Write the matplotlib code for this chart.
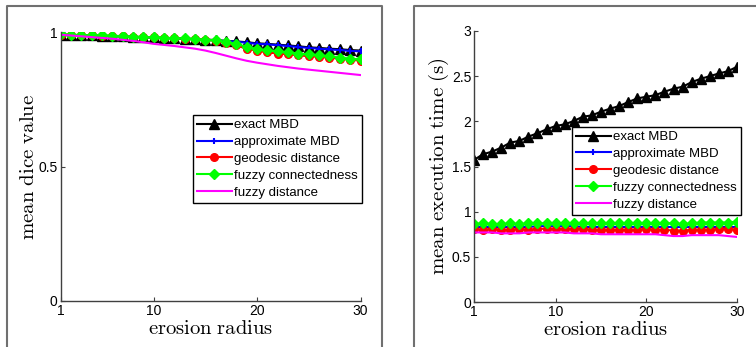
import matplotlib
matplotlib.use('Agg')
import matplotlib.pyplot as plt
from matplotlib.lines import Line2D
import numpy as np

plt.rcParams['font.family'] = ['Liberation Sans', 'DejaVu Sans']
plt.rcParams['mathtext.fontset'] = 'cm'

radius = np.arange(1, 31)
xticks = [1, 10, 20, 30]
names = ['exact MBD', 'approximate MBD', 'geodesic distance',
         'fuzzy connectedness', 'fuzzy distance']

# left panel: mean dice value
dice_exact = [0.990, 0.989, 0.988, 0.987, 0.986, 0.985, 0.984, 0.982, 0.981, 0.980,
              0.978, 0.977, 0.975, 0.974, 0.972, 0.970, 0.967, 0.965, 0.962, 0.958,
              0.956, 0.953, 0.950, 0.947, 0.943, 0.941, 0.938, 0.936, 0.933, 0.931]
dice_approx = [0.989, 0.988, 0.987, 0.986, 0.985, 0.984, 0.983, 0.981, 0.980, 0.979,
               0.977, 0.976, 0.974, 0.973, 0.971, 0.969, 0.966, 0.964, 0.960, 0.956,
               0.954, 0.951, 0.948, 0.944, 0.941, 0.938, 0.935, 0.933, 0.930, 0.928]
dice_geo = [0.990, 0.989, 0.988, 0.987, 0.986, 0.985, 0.984, 0.982, 0.981, 0.980,
            0.978, 0.977, 0.975, 0.973, 0.971, 0.967, 0.960, 0.950, 0.938, 0.930,
            0.924, 0.920, 0.917, 0.913, 0.910, 0.907, 0.904, 0.901, 0.897, 0.893]
dice_fc = [0.992, 0.990, 0.989, 0.988, 0.987, 0.986, 0.985, 0.983, 0.982, 0.980,
           0.979, 0.977, 0.976, 0.974, 0.972, 0.969, 0.963, 0.955, 0.945, 0.937,
           0.932, 0.928, 0.924, 0.920, 0.917, 0.913, 0.909, 0.905, 0.901, 0.898]
dice_fd = [0.990, 0.987, 0.984, 0.981, 0.978, 0.975, 0.971, 0.967, 0.962, 0.956,
           0.952, 0.948, 0.943, 0.938, 0.931, 0.922, 0.912, 0.902, 0.893, 0.886,
           0.880, 0.874, 0.869, 0.864, 0.860, 0.856, 0.852, 0.848, 0.844, 0.840]

# right panel: mean execution time (s)
time_exact = [1.573, 1.636, 1.665, 1.709, 1.765, 1.783, 1.831, 1.868, 1.912, 1.948,
              1.967, 2.004, 2.051, 2.066, 2.107, 2.140, 2.169, 2.213, 2.254, 2.272,
              2.290, 2.328, 2.361, 2.383, 2.434, 2.471, 2.500, 2.530, 2.555, 2.604]
time_approx = [0.83, 0.83, 0.83, 0.83, 0.83, 0.83, 0.83, 0.84, 0.84, 0.84,
               0.84, 0.84, 0.83, 0.83, 0.83, 0.83, 0.83, 0.83, 0.83, 0.83,
               0.83, 0.83, 0.83, 0.83, 0.83, 0.83, 0.83, 0.83, 0.83, 0.83]
time_geo = [0.81, 0.80, 0.81, 0.80, 0.80, 0.81, 0.80, 0.81, 0.81, 0.81,
            0.81, 0.81, 0.81, 0.80, 0.80, 0.80, 0.80, 0.80, 0.80, 0.81,
            0.80, 0.80, 0.79, 0.79, 0.80, 0.80, 0.80, 0.81, 0.81, 0.80]
time_fc = [0.86, 0.87, 0.86, 0.86, 0.87, 0.86, 0.87, 0.87, 0.87, 0.87,
           0.87, 0.87, 0.87, 0.87, 0.87, 0.87, 0.87, 0.87, 0.87, 0.87,
           0.87, 0.87, 0.87, 0.86, 0.87, 0.88, 0.88, 0.88, 0.88, 0.89]
time_fd = [0.77, 0.77, 0.77, 0.76, 0.76, 0.76, 0.77, 0.77, 0.77, 0.77,
           0.77, 0.76, 0.76, 0.76, 0.75, 0.75, 0.75, 0.75, 0.75, 0.75,
           0.75, 0.74, 0.73, 0.73, 0.74, 0.74, 0.74, 0.74, 0.73, 0.72]

styles = [dict(color='k', marker='^', ms=6.5),
          dict(color='b', marker='+', ms=5, mew=1.5),
          dict(color='r', marker='o', ms=5.5),
          dict(color=(0, 1, 0), marker='D', ms=5.3),
          dict(color=(1, 0, 1), marker=None)]

fig = plt.figure(figsize=(7.56, 3.47), dpi=100)
W, H = 756.0, 347.0

# panel frames
frame = '#707070'
for x0, x1 in [(7, 382), (414, 760)]:
    fig.add_artist(Line2D([x0 / W, x0 / W, x1 / W, x1 / W],
                          [-0.05, 1 - 6 / H, 1 - 6 / H, -0.05],
                          transform=fig.transFigure, color=frame, lw=1.5))

ax1 = fig.add_axes([60.5 / W, 1 - 301 / H, 300 / W, 269 / H])
ax2 = fig.add_axes([474 / W, 1 - 302 / H, 263 / W, 271 / H])

def draw(ax, series, ylim, yticks, yticklabels, ylabel, anchor, lpad):
    for ys, name, st in zip(series, names, styles):
        ax.plot(radius, ys, lw=1.5, label=name, mec=st['color'], mfc=st['color'], **st)
    ax.set_xlim(1, 30)
    ax.set_ylim(*ylim)
    ax.set_xticks(xticks)
    ax.set_yticks(yticks)
    ax.set_yticklabels(yticklabels)
    for s in ['top', 'right']:
        ax.spines[s].set_visible(False)
    for s in ['left', 'bottom']:
        ax.spines[s].set_color('#404040')
        ax.spines[s].set_linewidth(1.0)
    ax.tick_params(direction='in', length=3, labelsize=10, color='#404040', pad=2)
    ax.set_xlabel(r'$\mathrm{erosion\ radius}$', fontsize=14.8, labelpad=1)
    ax.set_ylabel(ylabel, fontsize=15, labelpad=lpad)
    leg = ax.legend(loc='upper right', bbox_to_anchor=anchor, fontsize=9.5,
                    fancybox=False, framealpha=1, edgecolor='k', handlelength=2.6,
                    labelspacing=0.35, borderpad=0.3, handletextpad=0.2,
                    borderaxespad=0)
    leg.get_frame().set_linewidth(1.0)

draw(ax1, [dice_exact, dice_approx, dice_geo, dice_fc, dice_fd],
     (0, 1), [0, 0.5, 1], ['0', '0.5', '1'],
     r'$\mathrm{mean\ dice\ value}$', (1.005, 0.691), 0.5)
draw(ax2, [time_exact, time_approx, time_geo, time_fc, time_fd],
     (0, 3), [0, 0.5, 1, 1.5, 2, 2.5, 3], ['0', '0.5', '1', '1.5', '2', '2.5', '3'],
     r'$\mathrm{mean\ execution\ time\ (s)}$', (1.015, 0.646), 0.5)

fig.savefig('out.png', dpi=100)
